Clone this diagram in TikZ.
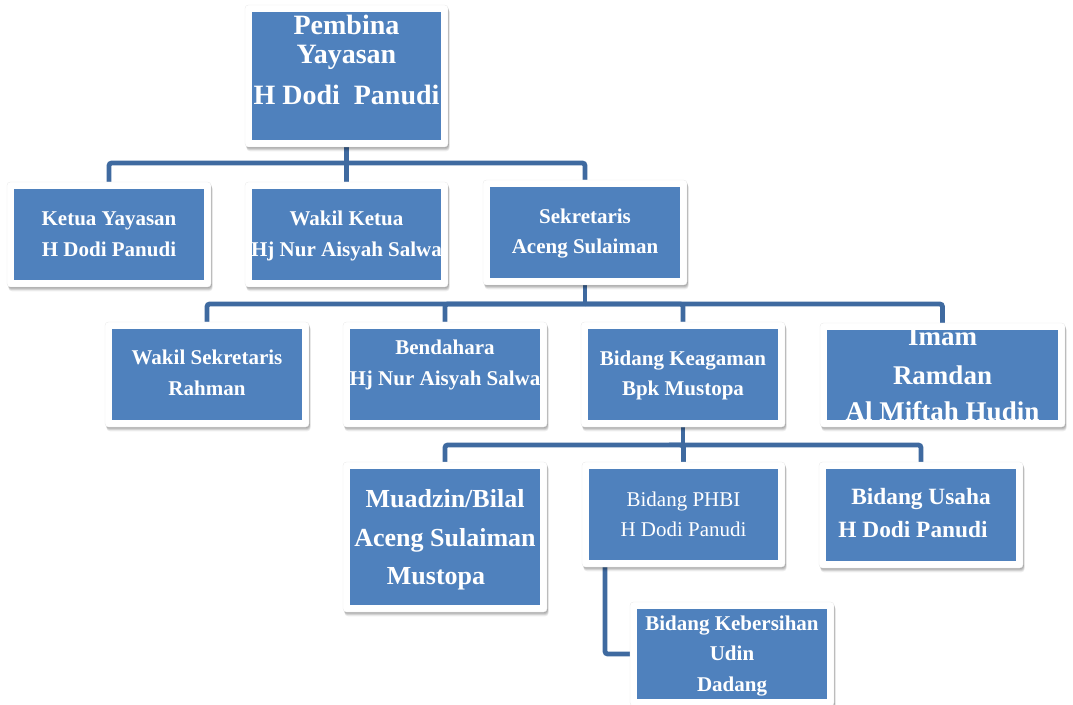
\documentclass[tikz,border=0pt]{standalone}
\usepackage{fontspec}
\setmainfont{Liberation Serif}
\usetikzlibrary{shadows,backgrounds,calc}
\definecolor{boxblue}{HTML}{4F81BD}
\definecolor{linkblue}{HTML}{3F6AA0}
\tikzset{
  outerbox/.style={rectangle, rounded corners=2.5pt, fill=white, draw=black!8, line width=0.3pt, inner sep=0pt, outer sep=0pt,
    drop shadow={shadow xshift=0.6pt, shadow yshift=-0.8pt, opacity=0.10, fill=black},
    drop shadow={shadow xshift=0.8pt, shadow yshift=-1.6pt, opacity=0.10, fill=black},
    drop shadow={shadow xshift=1.0pt, shadow yshift=-2.4pt, opacity=0.10, fill=black},
    drop shadow={shadow xshift=1.2pt, shadow yshift=-3.2pt, opacity=0.07, fill=black}},
  txt/.style={text=white, inner sep=0pt, anchor=base},
  tb/.style={txt, font=\fontsize{#1}{#1}\selectfont\bfseries},
  tr/.style={txt, font=\fontsize{#1}{#1}\selectfont},
  conn/.style={draw=linkblue, line width=3.6pt, rounded corners=2pt},
}
\newcommand\orgbox[5]{%
  \node[outerbox, minimum width={#4*0.75pt}, minimum height={#5*0.75pt}] (#1) at (#2,#3) {};
  \fill[boxblue] ([xshift=5.25pt,yshift=-5.25pt]#1.north west) rectangle ([xshift=-5.25pt,yshift=5.25pt]#1.south east);
}
\newcommand\clipin[1]{\clip ([xshift=5.25pt,yshift=-5.25pt]#1.north west) rectangle ([xshift=-5.25pt,yshift=5.25pt]#1.south east);}
\begin{document}
\begin{tikzpicture}[x=0.75pt,y=-0.75pt]
\useasboundingbox (0,0) rectangle (1073,705);
% boxes
\orgbox{pem}{346.5}{76}{203}{142}
\orgbox{ket}{109}{234.5}{204}{105}
\orgbox{wak}{346.5}{234.5}{203}{105}
\orgbox{sek}{585}{232.5}{204}{105}
\orgbox{wse}{207}{374.5}{204}{105}
\orgbox{ben}{445}{374.5}{204}{105}
\orgbox{kea}{683}{374.5}{204}{105}
\orgbox{ima}{942.5}{375}{245}{104}
\orgbox{mua}{445}{537}{204}{150}
\orgbox{phb}{683.5}{514.5}{203}{105}
\orgbox{usa}{921}{515}{204}{106}
\orgbox{keb}{732}{654}{204}{104}
% texts
\begin{scope}\clipin{pem}
  \node[tb=21pt] (pem1) at (346.5,35) {Pembina};
  \node[tb=21pt] (pem2) at (346.5,64) {Yayasan};
  \node[tb=21pt] (pem3) at (346.5,105) {H Dodi\ \ Panudi};
\end{scope}
\begin{scope}\clipin{ket}
  \node[tb=15.75pt] (ket1) at (109,226) {Ketua Yayasan};
  \node[tb=15.75pt] (ket2) at (109,257) {H Dodi Panudi};
\end{scope}
\begin{scope}\clipin{wak}
  \node[tb=15.75pt] (wak1) at (346.5,226) {Wakil Ketua};
  \node[tb=15.75pt] (wak2) at (346.5,257) {Hj Nur Aisyah Salwa};
\end{scope}
\begin{scope}\clipin{sek}
  \node[tb=15.75pt] (sek1) at (585,224) {Sekretaris};
  \node[tb=15.75pt] (sek2) at (585,254) {Aceng Sulaiman};
\end{scope}
\begin{scope}\clipin{wse}
  \node[tb=15.75pt] (wse1) at (207,365) {Wakil Sekretaris};
  \node[tb=15.75pt] (wse2) at (207,396) {Rahman};
\end{scope}
\begin{scope}\clipin{ben}
  \node[tb=15.75pt] (ben1) at (445,355) {Bendahara};
  \node[tb=15.75pt] (ben2) at (445,385) {Hj Nur Aisyah Salwa};
\end{scope}
\begin{scope}\clipin{kea}
  \node[tb=15.75pt] (kea1) at (683,366) {Bidang Keagaman};
  \node[tb=15.75pt] (kea2) at (683,396) {Bpk Mustopa};
\end{scope}
\begin{scope}\clipin{ima}
  \node[tb=20.25pt] (ima1) at (942.5,346) {Imam};
  \node[tb=20.25pt] (ima2) at (942.5,384) {Ramdan};
  \node[tb=20.25pt] (ima3) at (942.5,421) {Al Miftah Hudin};
\end{scope}
\begin{scope}\clipin{mua}
  \node[tb=19.5pt] (mua1) at (445,507) {Muadzin/Bilal};
  \node[tb=19.5pt] (mua2) at (445,546) {Aceng Sulaiman};
  \node[tb=19.5pt] (mua3) at (436,584) {Mustopa};
\end{scope}
\begin{scope}\clipin{phb}
  \node[tr=15.75pt] (phb1) at (683.5,506) {Bidang PHBI};
  \node[tr=15.75pt] (phb2) at (683.5,536) {H Dodi Panudi};
\end{scope}
\begin{scope}\clipin{usa}
  \node[tb=17.5pt] (usa1) at (921,504) {Bidang Usaha};
  \node[tb=17.5pt] (usa2) at (913,537) {H Dodi Panudi};
\end{scope}
\begin{scope}\clipin{keb}
  \node[tb=15.75pt] (keb1) at (732,630) {Bidang Kebersihan};
  \node[tb=15.75pt] (keb2) at (732,660) {Udin};
  \node[tb=15.75pt] (keb3) at (732,691) {Dadang};
\end{scope}
% connectors
\coordinate (j1) at (346.5,163);
\coordinate (j2) at (585,304);
\coordinate (j3) at (683,445);
\coordinate (j4) at ($(phb.south west)+(23,0)$);
\begin{pgfonlayer}{background}
  \draw[conn] (pem.south) -- (j1);
  \draw[conn] (j1) -| (ket.north);
  \draw[conn] (j1) -- (wak.north);
  \draw[conn] (j1) -| (sek.north);
  \draw[conn] (sek.south) -- (j2);
  \draw[conn] (j2) -| (wse.north);
  \draw[conn] (j2) -| (ben.north);
  \draw[conn] (j2) -| (kea.north);
  \draw[conn] (j2) -| (ima.north);
  \draw[conn] (kea.south) -- (j3);
  \draw[conn] (j3) -| (mua.north);
  \draw[conn] (j3) -| (phb.north);
  \draw[conn] (j3) -| (usa.north);
  \draw[conn] (j4) |- (keb.west);
\end{pgfonlayer}
\end{tikzpicture}
\end{document}
